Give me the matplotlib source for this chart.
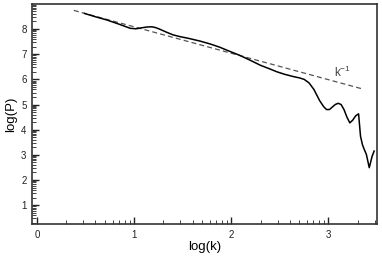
import numpy as np
import matplotlib
matplotlib.use("Agg")
import matplotlib.pyplot as plt

plt.rcParams['font.family'] = ['Liberation Sans', 'DejaVu Sans']

# spectrum (log10 k, log10 P)
log_k = [0.49, 0.60, 0.72, 0.84, 0.96, 1.02, 1.08, 1.13, 1.18, 1.22, 1.26, 1.33,
         1.40, 1.47, 1.56, 1.68, 1.78, 1.88, 1.98, 2.09, 2.20, 2.30, 2.40, 2.47,
         2.55, 2.64, 2.70, 2.75, 2.80, 2.85, 2.91, 2.95, 2.98, 3.01, 3.04, 3.07,
         3.10, 3.13, 3.16, 3.19, 3.22, 3.25, 3.28, 3.31, 3.33, 3.35, 3.37, 3.39,
         3.42, 3.45, 3.47]
log_p = [8.62, 8.49, 8.36, 8.20, 8.03, 8.01, 8.05, 8.08, 8.09, 8.06, 8.00, 7.88,
         7.77, 7.70, 7.63, 7.52, 7.41, 7.28, 7.12, 6.95, 6.75, 6.56, 6.41, 6.30,
         6.20, 6.11, 6.06, 6.00, 5.86, 5.60, 5.15, 4.92, 4.80, 4.80, 4.90, 5.00,
         5.05, 5.00, 4.80, 4.50, 4.27, 4.38, 4.55, 4.63, 3.74, 3.40, 3.20, 3.02,
         2.49, 2.95, 3.15]

# reference k^-1 slope line
ref_k = [0.38, 3.35]
ref_p = [8.74, 5.62]

fig = plt.figure(figsize=(3.82, 2.59), dpi=100)
ax = fig.add_axes([0.084, 0.135, 0.903, 0.85])

ax.plot(ref_k, ref_p, '--', color='#555555', lw=0.9, dashes=(4, 2.5))
ax.plot(log_k, log_p, '-', color='black', lw=1.1)

ax.text(3.06, 6.08, r'k$^{\mathregular{-1}}$', fontsize=8.5, color='#444444')

ax.set_xlim(-0.05, 3.5)
ax.set_ylim(0.25, 9.0)

ax.set_xticks([0, 1, 2, 3])
ax.set_yticks([1, 2, 3, 4, 5, 6, 7, 8])
# log-style minor ticks, as in the original
minor_x = [n + np.log10(m) for n in range(0, 4) for m in range(2, 10)]
minor_y = [n + np.log10(m) for n in range(0, 9) for m in range(2, 10)]
ax.set_xticks([v for v in minor_x if v < 3.5], minor=True)
ax.set_yticks([v for v in minor_y if 0.25 < v < 9.0], minor=True)

ax.tick_params(which='both', direction='in', top=False, right=False,
               labelsize=7, colors='#222222', pad=4)
ax.tick_params(which='major', length=5, width=1.0)
ax.tick_params(which='minor', length=3, width=0.6)

for s in ax.spines.values():
    s.set_linewidth(1.2)
    s.set_color('#333333')

ax.set_xlabel('log(k)', fontsize=9.5, labelpad=1)
ax.set_ylabel('log(P)', fontsize=9.5, labelpad=3)

fig.savefig('out.png', dpi=100)
